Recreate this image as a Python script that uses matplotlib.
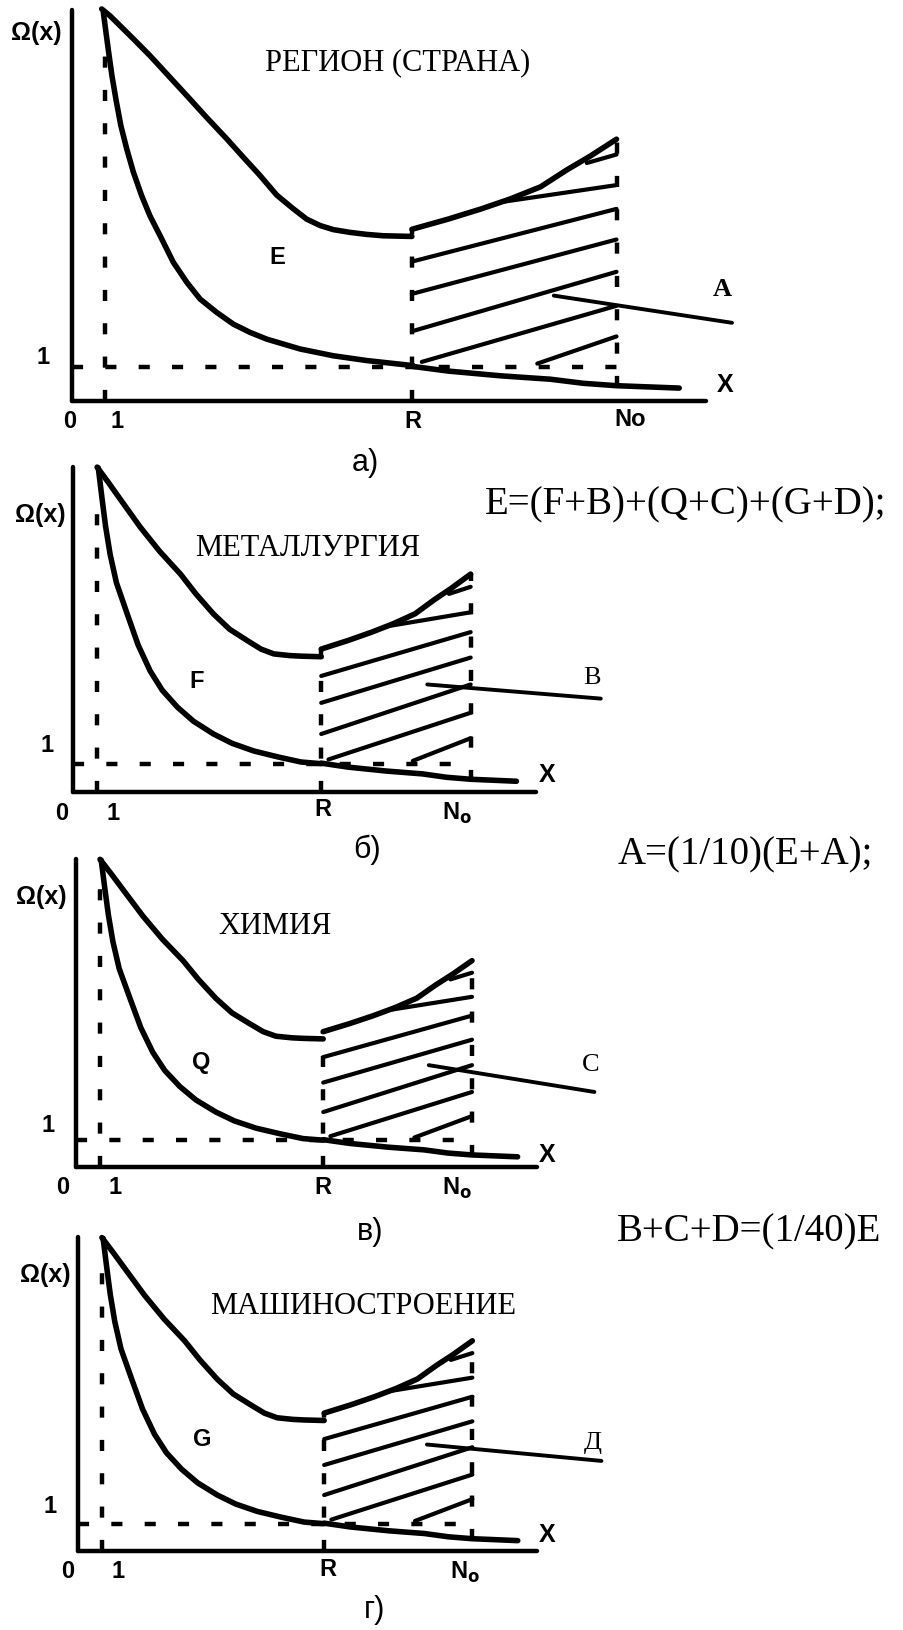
import matplotlib
matplotlib.use('Agg')
import matplotlib.pyplot as plt

W, H = 904, 1631

# x in units of the "1" mark, y in units of Omega = 1
x_one = 1.0
R = 10.3
No = 16.5
x_end = 19.2
y_top = 11.5
y_dash_top = 10.4

# panel a (region) curves
upper_a_x = [0.9, 1.15, 1.35, 1.86, 2.36, 2.92, 3.48, 4.08, 4.69, 5.19, 5.70,
             6.20, 6.71, 7.11, 7.52, 7.92, 8.42, 8.93, 9.43, 10.3]
upper_a_y = [11.53, 11.33, 11.14, 10.65, 10.16, 9.57, 8.98, 8.34, 7.71, 7.17, 6.63,
             6.06, 5.65, 5.35, 5.16, 5.04, 4.96, 4.90, 4.86, 4.84]
lower_a_x = [0.95, 1.03, 1.11, 1.21, 1.33, 1.48, 1.66, 1.86, 2.11, 2.36, 2.67, 3.07,
             3.48, 3.88, 4.38, 4.89, 5.39, 5.90, 6.91, 7.92, 8.93, 10.34]
lower_a_y = [11.43, 10.84, 10.26, 9.57, 8.88, 8.10, 7.41, 6.73, 6.04, 5.45, 4.86, 4.08,
             3.49, 3.0, 2.61, 2.26, 2.02, 1.82, 1.53, 1.33, 1.19, 1.04]

# panels б, в, г (industries) curves
upper_b_x = [1.0, 1.5, 2.0, 2.79, 3.6, 4.46, 5.1, 5.83, 6.5, 7.25, 7.8, 8.33, 9.0, 9.46, 10.3]
upper_b_y = [11.48, 10.9, 10.3, 9.36, 8.5, 7.7, 7.0, 6.29, 5.75, 5.34, 5.05, 4.88, 4.82, 4.8, 4.78]
lower_b_x = [1.05, 1.2, 1.35, 1.54, 1.8, 2.25, 2.7, 3.2, 3.7, 4.33, 5.0, 5.83, 6.6, 7.5,
             8.5, 9.46, 10.3]
lower_b_y = [11.45, 10.4, 9.4, 8.4, 7.4, 6.29, 5.2, 4.28, 3.6, 3.0, 2.5, 2.05, 1.72, 1.45,
             1.24, 1.06, 1.0]

# common parts to the right of R
upper_right_x = [10.3, 11.4, 12.4, 13.3, 14.2, 15.0, 15.7, 16.5]
upper_right_y = [5.05, 5.35, 5.65, 5.95, 6.3, 6.8, 7.2, 7.7]
lower_right_x = [10.3, 11.4, 13.0, 14.5, 15.5, 16.5, 18.4]
lower_right_y = [1.02, 0.88, 0.74, 0.64, 0.52, 0.45, 0.38]

# hatching between R and No: start x, start y, y at No
hatch_x0 = [13.0, 10.3, 10.3, 10.3, 10.6, 14.1, 15.6]
hatch_y0 = [5.85, 4.1, 3.15, 2.05, 1.15, 1.1, 7.0]
hatch_y1 = [6.35, 5.65, 4.75, 3.8, 2.8, 1.9, 7.25]

# leader lines to the A / B / C / Д labels
leader_x = [[14.6, 20.0], [14.7, 21.9], [14.7, 21.6], [14.6, 21.9]]
leader_y = [[3.1, 2.3], [3.8, 3.3], [3.8, 2.8], [3.9, 3.3]]

panel_names = ['а)', 'б)', 'в)', 'г)']
panel_titles = ['РЕГИОН (СТРАНА)', 'МЕТАЛЛУРГИЯ', 'ХИМИЯ', 'МАШИНОСТРОЕНИЕ']
area_labels = ['E', 'F', 'Q', 'G']
side_labels = ['A', 'B', 'C', 'Д']
formulas = ['E=(F+B)+(Q+C)+(G+D);', 'A=(1/10)(E+A);', 'B+C+D=(1/40)E']

# layout: origin of each panel in pixels and pixel size of one unit
origin_px = [(72, 402), (73, 793), (76, 1168), (78, 1552)]
unit_px = [(33.0, 34.0), (24.1, 28.3), (24.0, 26.8), (23.9, 27.3)]

fig = plt.figure(figsize=(W / 100, H / 100), dpi=100)
fig.patch.set_facecolor('white')

serif = 'Liberation Serif'
sans = 'Liberation Sans'


def put(s, x, y, **kw):
    kw.setdefault('ha', 'center')
    kw.setdefault('va', 'center')
    fig.text(x / W, 1 - y / H, s, **kw)


lw_curve = 4.0
lw_axis = 3.2
lw_hatch = 3.0
dash = (0, (2.5, 5.0))

for i in range(4):
    x0, y0 = origin_px[i]
    ux, uy = unit_px[i]
    ax = fig.add_axes([0, 0, 1, 1])
    ax.set_xlim(-x0 / ux, (W - x0) / ux)
    ax.set_ylim((y0 - H) / uy, y0 / uy)
    ax.axis('off')
    ax.patch.set_visible(False)

    if i == 0:
        ux_, uy_, lx_, ly_ = upper_a_x, upper_a_y, lower_a_x, lower_a_y
    else:
        ux_, uy_, lx_, ly_ = upper_b_x, upper_b_y, lower_b_x, lower_b_y

    k = dict(color='black', solid_capstyle='round', solid_joinstyle='round')
    # axes
    ax.plot([0, x_end], [0, 0], lw=lw_axis, **k)
    ax.plot([0, 0], [0, y_top], lw=lw_axis, **k)
    # dashed guides
    kd = dict(color='black', lw=3.2, linestyle=dash, dash_capstyle='butt')
    ax.plot([x_one, x_one], [0, y_dash_top], **kd)
    ax.plot([0, No], [1, 1], **kd)
    ax.plot([R, R], [0, upper_right_y[0]], **kd)
    ax.plot([No, No], [0.4, upper_right_y[-1]], **kd)
    # curves
    ax.plot(ux_, uy_, lw=lw_curve, **k)
    ax.plot(upper_right_x, upper_right_y, lw=lw_curve, **k)
    ax.plot(lx_, ly_, lw=lw_curve, **k)
    ax.plot(lower_right_x, lower_right_y, lw=lw_curve, **k)
    # hatching
    for xs, ys, ye in zip(hatch_x0, hatch_y0, hatch_y1):
        ax.plot([xs, No], [ys, ye], lw=lw_hatch, **k)
    # leader
    ax.plot(leader_x[i], leader_y[i], lw=2.8, **k)

# ---- texts (pixel positions) ----
bold_sans = dict(family=sans, fontweight='bold')
fs_om, fs_tick, fs_x, fs_side, fs_area, fs_title, fs_name, fs_form = 18, 17, 18, 19, 17, 22, 22, 28

# panel a
put('Ω(x)', 36, 33, fontsize=fs_om, **bold_sans)
put('1', 43, 358, fontsize=fs_tick, **bold_sans)
put('0', 70, 422, fontsize=fs_tick, **bold_sans)
put('1', 117, 422, fontsize=fs_tick, **bold_sans)
put('R', 413, 422, fontsize=fs_tick, **bold_sans)
put('No', 630, 420, fontsize=fs_tick, **bold_sans)
put('X', 725, 385, fontsize=fs_x, **bold_sans)
put(side_labels[0], 722, 290, fontsize=fs_side, family=serif, fontweight='bold')
put(area_labels[0], 277, 257, fontsize=fs_area, **bold_sans)
put(panel_titles[0], 398, 63, fontsize=fs_title, family=serif)
put(panel_names[0], 365, 463, fontsize=fs_name, family=sans)

# panel б
put('Ω(x)', 40, 515, fontsize=fs_om, **bold_sans)
put('1', 47, 745, fontsize=fs_tick, **bold_sans)
put('0', 62, 813, fontsize=fs_tick, **bold_sans)
put('1', 113, 813, fontsize=fs_tick, **bold_sans)
put('R', 323, 810, fontsize=fs_tick, **bold_sans)
put('N$_{\\bf o}$', 457, 813, fontsize=fs_tick, **bold_sans)
put('X', 547, 775, fontsize=fs_x, **bold_sans)
put(side_labels[1], 592, 678, fontsize=fs_side, family=serif)
put(area_labels[1], 197, 682, fontsize=fs_area, **bold_sans)
put(panel_titles[1], 308, 548, fontsize=fs_title, family=serif)
put(panel_names[1], 367, 850, fontsize=fs_name, family=sans)

# panel в
put('Ω(x)', 41, 897, fontsize=fs_om, **bold_sans)
put('1', 48, 1125, fontsize=fs_tick, **bold_sans)
put('0', 63, 1188, fontsize=fs_tick, **bold_sans)
put('1', 115, 1188, fontsize=fs_tick, **bold_sans)
put('R', 323, 1188, fontsize=fs_tick, **bold_sans)
put('N$_{\\bf o}$', 457, 1188, fontsize=fs_tick, **bold_sans)
put('X', 547, 1155, fontsize=fs_x, **bold_sans)
put(side_labels[2], 591, 1065, fontsize=fs_side, family=serif)
put(area_labels[2], 201, 1062, fontsize=fs_area, **bold_sans)
put(panel_titles[2], 275, 927, fontsize=fs_title, family=serif)
put(panel_names[2], 370, 1232, fontsize=fs_name, family=sans)

# panel г
put('Ω(x)', 45, 1275, fontsize=fs_om, **bold_sans)
put('1', 50, 1507, fontsize=fs_tick, **bold_sans)
put('0', 68, 1572, fontsize=fs_tick, **bold_sans)
put('1', 118, 1572, fontsize=fs_tick, **bold_sans)
put('R', 328, 1570, fontsize=fs_tick, **bold_sans)
put('N$_{\\bf o}$', 465, 1572, fontsize=fs_tick, **bold_sans)
put('X', 547, 1535, fontsize=fs_x, **bold_sans)
put(side_labels[3], 593, 1443, fontsize=fs_side, family=serif)
put(area_labels[3], 202, 1440, fontsize=fs_area, **bold_sans)
put(panel_titles[3], 363, 1307, fontsize=fs_title, family=serif)
put(panel_names[3], 375, 1610, fontsize=fs_name, family=sans)

# formulas on the right
put(formulas[0], 485, 505, fontsize=fs_form, family=serif, ha='left')
put(formulas[1], 618, 855, fontsize=fs_form, family=serif, ha='left')
put(formulas[2], 617, 1232, fontsize=fs_form, family=serif, ha='left')

fig.savefig('out.png', dpi=100, facecolor='white')
